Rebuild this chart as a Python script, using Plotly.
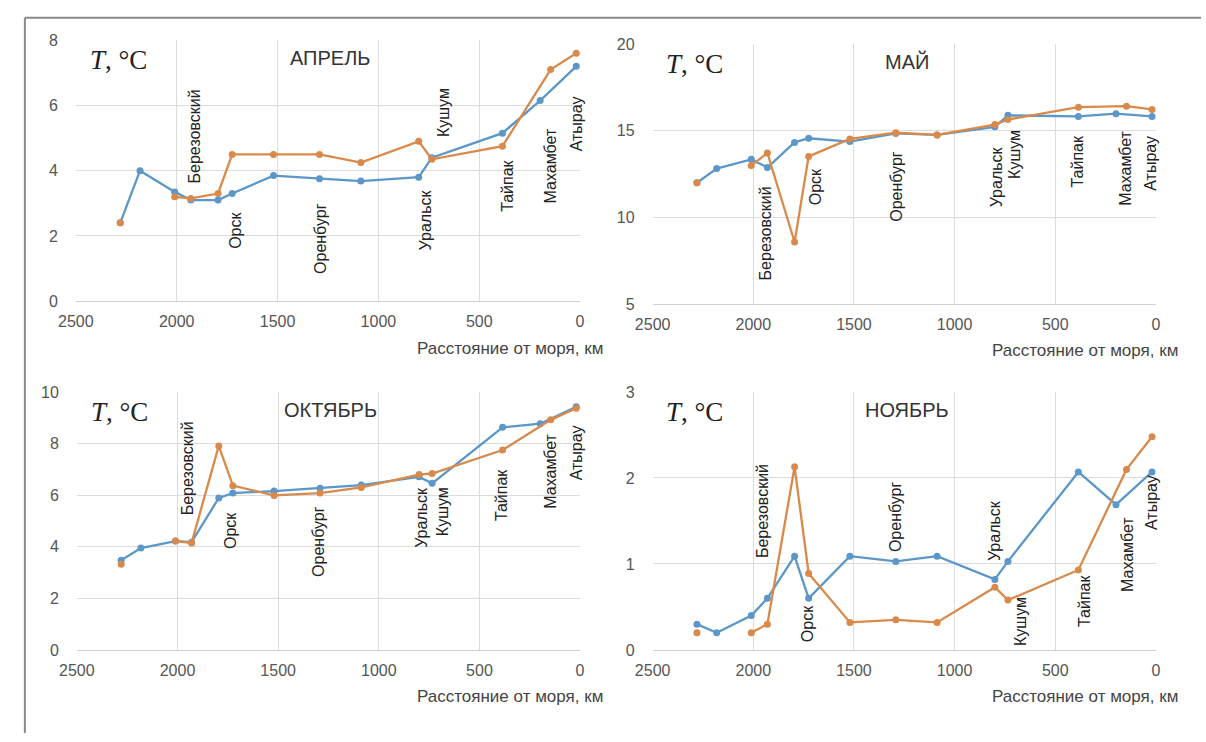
import plotly.graph_objects as go

# Distance from the sea (km) for each station, two data sets
dist_a = [2280, 2182, 2010, 1930, 1795, 1725, 1520, 1292, 1087, 800, 735, 385, 198, 19]
dist_b = [2280, 2182, 2010, 1930, 1795, 1725, 1520, 1292, 1087, 800, 735, 385, 146, 19]

# Mean temperatures, °C (None = no observation)
apr_a = [2.4, 4.0, 3.35, 3.1, 3.1, 3.3, 3.85, 3.75, 3.68, 3.8, 4.4, 5.15, 6.15, 7.2]
apr_b = [2.4, None, 3.2, 3.15, 3.3, 4.5, 4.5, 4.5, 4.25, 4.9, 4.35, 4.75, 7.1, 7.6]
may_a = [12.0, 12.82, 13.35, 12.88, 14.33, 14.57, 14.38, 14.85, 14.76, 15.23, 15.89, 15.83, 15.99, 15.83]
may_b = [12.0, None, 13.0, 13.72, 8.58, 13.52, 14.53, 14.89, 14.76, 15.36, 15.65, 16.36, 16.42, 16.23]
oct_a = [3.48, 3.95, 4.22, 4.18, 5.89, 6.08, 6.16, 6.27, 6.39, 6.71, 6.46, 8.63, 8.77, 9.43]
oct_b = [3.32, None, 4.22, 4.15, 7.91, 6.37, 5.99, 6.08, 6.30, 6.80, 6.84, 7.75, 8.92, 9.37]
nov_a = [0.30, 0.20, 0.40, 0.60, 1.09, 0.60, 1.09, 1.03, 1.09, 0.82, 1.03, 2.07, 1.69, 2.07]
nov_b = [0.20, None, 0.20, 0.30, 2.13, 0.89, 0.32, 0.35, 0.32, 0.73, 0.58, 0.93, 2.10, 2.48]

months = ["АПРЕЛЬ", "МАЙ", "ОКТЯБРЬ", "НОЯБРЬ"]
stations = ["Березовский", "Орск", "Оренбург", "Уральск", "Кушум", "Тайпак", "Махамбет", "Атырау"]
x_title = "Расстояние от моря, км"
y_title = "<i>T</i>, °C"

W, H = 1206, 742
BLUE = "#5b97c9"
ORANGE = "#d98a4a"

# panel boxes in pixels: left, right, top, bottom
boxes = [(59, 573, 33, 300), (647, 1160, 37, 303), (60, 573, 393, 657), (647, 1160, 393, 657)]
yranges = [(0, 8, 2), (5, 20, 5), (0, 10, 2), (0, 3, 1)]
series = [(apr_a, apr_b), (may_a, may_b), (oct_a, oct_b), (nov_a, nov_b)]

# station label anchors (km, °C) inside each panel
label_pos = [
    [(1911, 5.04), (1712, 2.18), (1284, 1.91), (768, 2.48), (676, 5.79), (360, 3.55), (146, 4.15), (19, 5.43)],
    [(1940, 9.1), (1690, 11.78), (1290, 11.78), (791, 12.35), (703, 13.63), (390, 13.25), (151, 12.84), (24, 13.1)],
    [(1949, 7.03), (1733, 4.62), (1303, 4.22), (789, 5.13), (686, 5.38), (387, 6.01), (148, 6.92), (19, 7.63)],
    [(1954, 1.61), (1733, 0.30), (1294, 1.55), (801, 1.39), (673, 0.33), (352, 0.57), (141, 1.11), (19, 1.71)],
]

fig = go.Figure()
annotations = []
layout = {}

for i in range(4):
    n = "" if i == 0 else str(i + 1)
    xa, ya = "x" + n, "y" + n
    l, r, t, b = boxes[i]
    ymin, ymax, dt = yranges[i]
    sa, sb = series[i]
    fig.add_trace(go.Scatter(x=dist_a, y=sa, xaxis=xa, yaxis=ya, mode="lines+markers",
                             line=dict(color=BLUE, width=2.3), marker=dict(size=7, color=BLUE),
                             connectgaps=False, showlegend=False))
    fig.add_trace(go.Scatter(x=dist_b, y=sb, xaxis=xa, yaxis=ya, mode="lines+markers",
                             line=dict(color=ORANGE, width=2.3), marker=dict(size=7, color=ORANGE),
                             connectgaps=False, showlegend=False))
    layout["xaxis" + n] = dict(
        domain=[l / W, r / W], range=[2500, 0], dtick=500, tick0=0, anchor=ya,
        showgrid=True, gridcolor="#dcdcdc", gridwidth=1, zeroline=False,
        showline=True, linecolor="#d0d0d0", linewidth=1, ticks="",
        tickfont=dict(family="Liberation Sans", size=16, color="#555555"),
        ticklabelstandoff=6, fixedrange=True,
    )
    layout["yaxis" + n] = dict(
        domain=[1 - b / H, 1 - t / H], range=[ymin, ymax], dtick=dt, tick0=0, anchor=xa,
        showgrid=True, gridcolor="#dcdcdc", gridwidth=1, zeroline=False,
        showline=False, ticks="",
        tickfont=dict(family="Liberation Sans", size=16, color="#555555"),
        ticklabelstandoff=17, fixedrange=True,
    )
    # month name
    annotations.append(dict(text=months[i], xref="paper", yref="paper",
                            x=(l + 0.505 * (r - l)) / W, y=1 - (t + 18) / H,
                            xanchor="center", yanchor="middle", showarrow=False,
                            font=dict(family="Liberation Sans", size=20, color="#333333")))
    # temperature label
    annotations.append(dict(text=y_title, xref="paper", yref="paper",
                            x=(l + 12) / W, y=1 - (t + 20) / H,
                            xanchor="left", yanchor="middle", showarrow=False,
                            font=dict(family="Liberation Serif", size=27, color="#222222")))
    # distance axis title
    annotations.append(dict(text=x_title, xref="paper", yref="paper",
                            x=(r + 25) / W, y=1 - (b + 48) / H,
                            xanchor="right", yanchor="middle", showarrow=False,
                            font=dict(family="Liberation Sans", size=17, color="#444444")))
    # station names
    for name, (px, py) in zip(stations, label_pos[i]):
        annotations.append(dict(text=name, xref=xa, yref=ya, x=px, y=py,
                                textangle=-90, xanchor="center", yanchor="middle",
                                showarrow=False,
                                font=dict(family="Liberation Sans", size=16, color="#222222")))

shapes = [
    dict(type="line", xref="paper", yref="paper", x0=7 / W, x1=1, y0=1 - 10 / H, y1=1 - 10 / H,
         line=dict(color="#8a8a8a", width=2)),
    dict(type="line", xref="paper", yref="paper", x0=7 / W, x1=7 / W, y0=0, y1=1 - 10 / H,
         line=dict(color="#8a8a8a", width=2)),
]

fig.update_layout(
    width=W, height=H, margin=dict(l=0, r=0, t=0, b=0),
    paper_bgcolor="white", plot_bgcolor="white",
    annotations=annotations, shapes=shapes, **layout,
)

fig.write_html("out.html")
